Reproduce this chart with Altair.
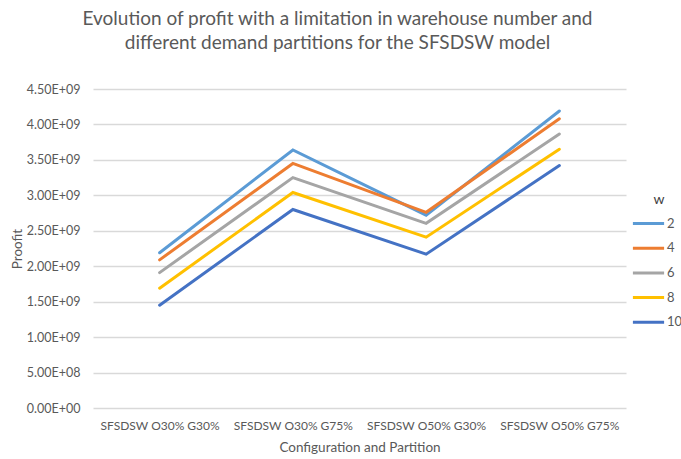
import altair as alt
import pandas as pd

categories = ["SFSDSW O30% G30%", "SFSDSW O30% G75%", "SFSDSW O50% G30%", "SFSDSW O50% G75%"]
series_names = ["2", "4", "6", "8", "10"]
w2 = [2.19e9, 3.64e9, 2.72e9, 4.19e9]
w4 = [2.09e9, 3.45e9, 2.76e9, 4.08e9]
w6 = [1.91e9, 3.25e9, 2.605e9, 3.865e9]
w8 = [1.69e9, 3.04e9, 2.41e9, 3.65e9]
w10 = [1.45e9, 2.80e9, 2.17e9, 3.42e9]
colors = ["#5B9BD5", "#ED7D31", "#A5A5A5", "#FFC000", "#4472C4"]

rows = []
for name, vals in zip(series_names, [w2, w4, w6, w8, w10]):
    for c, v in zip(categories, vals):
        rows.append({"Configuration and Partition": c, "Profit": v, "w": name})
df = pd.DataFrame(rows)

FONT = "Lato"
TXT = "#595959"

chart = alt.Chart(df).mark_line(strokeWidth=3, strokeCap="round").encode(
    x=alt.X("Configuration and Partition:N", sort=categories,
            scale=alt.Scale(type="point", padding=0.5),
            axis=alt.Axis(title="Configuration and Partition", labelAngle=0,
                          domain=False, ticks=False, grid=False,
                          labelPadding=12, titlePadding=9,
                          labelFontSize=12, titleFontSize=13.5,
                          labelColor=TXT, titleColor=TXT,
                          labelFont=FONT, titleFont=FONT, titleFontWeight="normal")),
    y=alt.Y("Profit:Q", scale=alt.Scale(domain=[0, 4.5e9], nice=False),
            axis=alt.Axis(title="Proofit", values=[i * 5e8 for i in range(10)],
                          labelExpr="replace(format(datum.value, '.2e'), 'e+', 'E+0')",
                          domain=False, ticks=False, labelPadding=13,
                          gridColor="#D9D9D9", gridWidth=1.5,
                          labelFontSize=12.5, titleFontSize=13.5,
                          labelColor=TXT, titleColor=TXT,
                          labelFont=FONT, titleFont=FONT, titleFontWeight="normal",
                          titleX=-69)),
    color=alt.Color("w:N", sort=series_names,
                    scale=alt.Scale(domain=series_names, range=colors),
                    legend=alt.Legend(title="w", orient="none", legendX=542, legendY=104,
                                      symbolType="M-1.3,0H1.3", symbolSize=576,
                                      symbolStrokeWidth=3, labelOffset=5,
                                      rowPadding=3.7, titleAnchor="middle",
                                      titleFontSize=14, titleFontWeight="normal",
                                      titleColor="#404040", titleFont=FONT,
                                      labelFontSize=13, labelColor=TXT, labelFont=FONT,
                                      titlePadding=3)),
).properties(
    width=533, height=319,
    title=alt.TitleParams(
        ["Evolution of profit with a limitation in warehouse number and",
         "different demand partitions for the SFSDSW model"],
        fontSize=19, font=FONT, fontWeight="normal", color=TXT,
        anchor="middle", dx=-22, lineHeight=24, offset=30),
    autosize=alt.AutoSizeParams(type="none"),
    padding={"left": 93, "top": 89, "right": 55, "bottom": 51},
).configure_view(stroke=None)

chart.save("out.html", embed_options={"renderer": "svg", "actions": False})
